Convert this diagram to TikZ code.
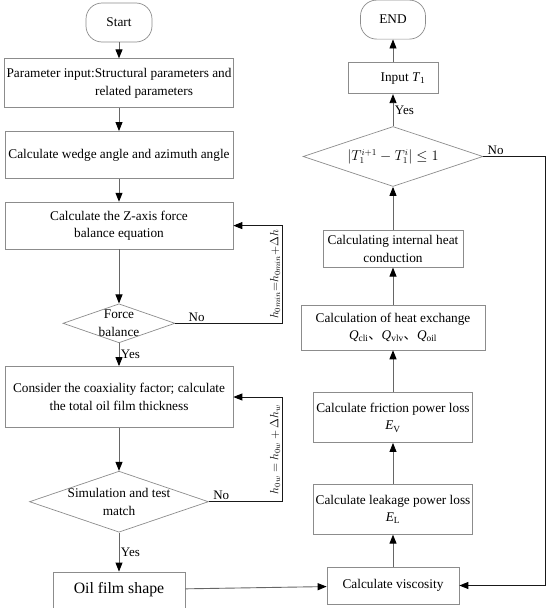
\documentclass[tikz,border=0pt]{standalone}
\usepackage{fontspec}
\setmainfont{Liberation Serif}
\newfontfamily\cjk{Noto Sans CJK SC}
\usetikzlibrary{positioning,shapes.geometric,arrows.meta}

\begin{document}
\begin{tikzpicture}[
	x=1pt, y=-1pt,
	node distance=23pt,
	font=\fontsize{13.3}{17.5}\selectfont,
	procbox/.style={rectangle, draw=black!45, line width=0.7pt, align=center, inner sep=2pt},
	termbox/.style={rectangle, rounded corners=16pt, draw=black!45, line width=0.7pt, align=center, minimum width=66pt, minimum height=39pt},
	decision/.style={diamond, draw=black!45, line width=0.7pt, inner sep=0pt},
	arrow/.style={-{Triangle[length=9pt,width=7pt,color=black]}, line width=0.9pt, draw=black!60},
	loopline/.style={arrow, draw=black!90},
	lab/.style={font=\fontsize{13}{15}\selectfont, inner sep=1.5pt}
]
\useasboundingbox (0,0) rectangle (550,608);
% left column
\node (start) [termbox] at (119,22.5) {Start};
\node (param) [procbox, below=16pt of start, minimum width=228pt, minimum height=49pt] {Parameter input:Structural parameters and\\\hspace*{50pt}related parameters};
\node (wedge) [procbox, below=of param, minimum width=228pt, minimum height=47pt] {Calculate wedge angle and azimuth angle};
\node (zaxis) [procbox, below=of wedge, minimum width=228pt, minimum height=47pt] {Calculate the Z-axis force\\balance equation};
\node (force) [decision, below=54pt of zaxis, minimum width=112pt, minimum height=39pt, label={[align=center]center:Force\\balance}] {};
\node (consider) [procbox, below=of force, minimum width=228pt, minimum height=61pt] {Consider the coaxiality factor; calculate\\the total oil film thickness};
\node (simtest) [decision, below=43pt of consider, minimum width=179pt, minimum height=61pt, label={[align=center]center:Simulation and test\\match}] {};
\node (oil) [procbox, below=39pt of simtest, minimum width=132pt, minimum height=36pt, font=\fontsize{15.8}{18}\selectfont] {Oil film shape};
% right column
\node (visc) [procbox, minimum width=132pt, minimum height=37pt] at (393,585.5) {Calculate viscosity};
\node (leak) [procbox, above=32pt of visc, minimum width=159pt, minimum height=50pt] {Calculate leakage power loss\\\textit{E}\textsubscript{L}};
\node (fric) [procbox, above=41pt of leak, minimum width=159pt, minimum height=50pt] {Calculate friction power loss\\\textit{E}\textsubscript{V}};
\node (heat) [procbox, above=42pt of fric, minimum width=184pt, minimum height=45pt] {Calculation of heat exchange\\\textit{Q}\textsubscript{cli}{\cjk 、}\textit{Q}\textsubscript{vlv}{\cjk 、}\textit{Q}\textsubscript{oil}};
\node (inter) [procbox, above=37pt of heat, minimum width=140pt, minimum height=37pt] {Calculating internal heat\\conduction};
\node (tcheck) [decision, above=43pt of inter, minimum width=180pt, minimum height=60pt, label=center:{$\left|T_1^{i+1}-T_1^{i}\right|\le 1$}] {};
\node (input) [procbox, above=32pt of tcheck, minimum width=90pt, minimum height=31pt] {\hspace*{20pt}Input \textit{T}\textsubscript{1}};
\node (end) [termbox, above=23pt of input, minimum width=65pt] {END};
\coordinate (lloop) at (282,0);
\coordinate (rloop) at (545,0);
% connectors
\draw [arrow] (start) -- (param);
\draw [arrow] (param) -- (wedge);
\draw [arrow] (wedge) -- (zaxis);
\draw [arrow] (zaxis) -- (force);
\draw [arrow] (force) -- node[right, lab] {Yes} (consider);
\draw [arrow] (consider) -- (simtest);
\draw [arrow] (simtest) -- node[right, lab] {Yes} (oil);
\draw [arrow] (oil) -- (visc);
\draw [arrow] (visc) -- (leak);
\draw [arrow] (leak) -- (fric);
\draw [arrow] (fric) -- (heat);
\draw [arrow] (heat) -- (inter);
\draw [arrow] (inter) -- (tcheck);
\draw [arrow] (tcheck) -- node[right, lab] {Yes} (input);
\draw [arrow] (input) -- (end);
% feedback loops
\draw [loopline] (force.east) -- node[above, lab, pos=0.2] {No} (force.east -| lloop) |- node[pos=0.25, rotate=90, above, lab, font=\fontsize{11.5}{13}\selectfont] {$h_{0min}{=}h_{0min}{+}\Delta h$} (zaxis.east);
\draw [loopline] (simtest.east) -- node[above, lab, pos=0.17] {No} (simtest.east -| lloop) |- node[pos=0.25, rotate=90, above, lab, font=\fontsize{11.5}{13}\selectfont] {$h_{0w} = h_{0w} + \Delta h_w$} (consider.east);
\draw [loopline] (tcheck.east) -- node[above, lab, pos=0.2] {No} (tcheck.east -| rloop) |- (visc.east);
\end{tikzpicture}
\end{document}
